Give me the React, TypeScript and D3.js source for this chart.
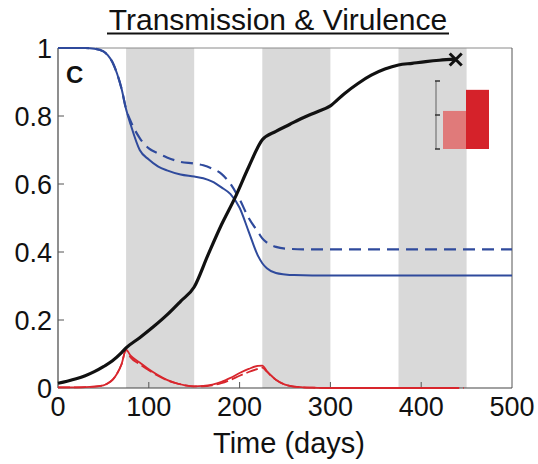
import React from "react";
import * as d3 from "d3";

const W = 538, H = 464;
const M = { left: 58, right: 26, top: 48, bottom: 76 };

const xTicks = [0, 100, 200, 300, 400, 500];
const yTicks = [0, 0.2, 0.4, 0.6, 0.8, 1];
const yTickLabels = ["0", "0.2", "0.4", "0.6", "0.8", "1"];
const bands: [number, number][] = [[75, 150], [225, 300], [375, 450]];

const blackDays = [0, 10, 20, 30, 40, 50, 60, 70, 75, 90, 105, 120, 135, 150, 165, 180, 195, 210, 225, 240, 255, 270, 285, 300, 315, 330, 345, 360, 375, 390, 405, 420, 438];
const blackVals = [0.014, 0.02, 0.027, 0.036, 0.048, 0.063, 0.08, 0.104, 0.118, 0.148, 0.18, 0.215, 0.255, 0.297, 0.39, 0.48, 0.56, 0.65, 0.73, 0.755, 0.775, 0.795, 0.812, 0.83, 0.865, 0.895, 0.92, 0.938, 0.95, 0.955, 0.96, 0.964, 0.967];

const blueDays = [0, 30, 40, 50, 55, 60, 65, 70, 75, 80, 90, 100, 110, 120, 135, 150, 160, 170, 180, 190, 200, 210, 220, 225, 230, 240, 250, 260, 280, 300, 400, 500];
const blueVals = [1, 1, 0.998, 0.99, 0.978, 0.958, 0.925, 0.88, 0.82, 0.775, 0.7, 0.672, 0.652, 0.64, 0.628, 0.622, 0.617, 0.607, 0.59, 0.57, 0.53, 0.46, 0.39, 0.367, 0.352, 0.338, 0.334, 0.332, 0.331, 0.331, 0.331, 0.331];

const blueDashDays = [0, 30, 40, 50, 55, 60, 65, 70, 75, 80, 90, 100, 110, 120, 135, 150, 160, 170, 180, 190, 200, 210, 220, 225, 230, 240, 250, 270, 350, 500];
const blueDashVals = [1, 1, 0.998, 0.99, 0.978, 0.958, 0.925, 0.88, 0.82, 0.785, 0.735, 0.705, 0.69, 0.678, 0.665, 0.66, 0.655, 0.645, 0.63, 0.6, 0.555, 0.5, 0.46, 0.44, 0.428, 0.415, 0.41, 0.408, 0.408, 0.408];

const redDays = [0, 20, 40, 50, 55, 60, 65, 70, 75, 80, 90, 100, 110, 120, 130, 140, 150, 160, 170, 180, 190, 200, 210, 220, 225, 230, 235, 240, 250, 260, 270, 280, 300, 350, 440];
const redVals = [0.002, 0.002, 0.004, 0.008, 0.014, 0.024, 0.042, 0.07, 0.112, 0.095, 0.075, 0.055, 0.038, 0.024, 0.014, 0.008, 0.005, 0.006, 0.01, 0.018, 0.03, 0.044, 0.056, 0.065, 0.066, 0.05, 0.036, 0.024, 0.01, 0.004, 0.002, 0.001, 0, 0, 0];

const redDashDays = [0, 20, 40, 50, 55, 60, 65, 70, 75, 80, 90, 100, 110, 120, 130, 140, 150, 160, 170, 180, 190, 200, 210, 220, 225, 230, 235, 240, 250, 260, 280, 300, 350, 400, 447];
const redDashVals = [0.002, 0.002, 0.004, 0.008, 0.014, 0.024, 0.042, 0.07, 0.112, 0.09, 0.07, 0.052, 0.036, 0.023, 0.014, 0.008, 0.005, 0.005, 0.008, 0.014, 0.024, 0.036, 0.047, 0.056, 0.06, 0.048, 0.035, 0.024, 0.01, 0.004, 0.001, 0, 0, 0, 0];

const endMarker = { day: 438, value: 0.966 };

const insetLabels = ["a", "b"];
const insetVals = [0.56, 0.87];
const insetColors = ["#e07a7a", "#d5222a"];

export default function App() {
  const x = d3.scaleLinear().domain([0, 500]).range([M.left, W - M.right]);
  const y = d3.scaleLinear().domain([0, 1]).range([H - M.bottom, M.top]);
  const mk = (ds: number[], vs: number[]) =>
    d3.line<number>().x((_, i) => x(ds[i])).y((v) => y(v)).curve(d3.curveMonotoneX)(vs) || "";

  const iy = d3.scaleLinear().domain([0, 1]).range([149, 81]);
  const ix = d3.scaleBand().domain(insetLabels).range([443, 489]).padding(0);

  const x0 = M.left, x1 = W - M.right, y0 = H - M.bottom, y1 = M.top;
  const font = "'Liberation Sans', Arial, Helvetica, sans-serif";
  const mx = x(endMarker.day), my = y(endMarker.value);

  return (
    <svg width={W} height={H} style={{ position: "absolute", left: 0, top: 0, background: "#fff" }} fontFamily={font}>
      {bands.map(([a, b], i) => (
        <rect key={i} x={x(a)} y={y1} width={x(b) - x(a)} height={y0 - y1} fill="#d9d9d9" />
      ))}
      <line x1={x0} x2={x1} y1={y1} y2={y1} stroke="#8a8a8a" strokeWidth={1} />
      <line x1={x1} x2={x1} y1={y1} y2={y0} stroke="#555" strokeWidth={1} />
      <line x1={x0} x2={x1} y1={y0} y2={y0} stroke="#444" strokeWidth={1.2} />
      <line x1={x0} x2={x0} y1={y1} y2={y0} stroke="#444" strokeWidth={1.2} />
      {yTicks.map((t, i) => (
        <g key={i}>
          {t > 0 && t < 1 && <line x1={x0} x2={x0 + 6} y1={y(t)} y2={y(t)} stroke="#555" />}
          <text x={x0 - 6} y={y(t)} dy="0.36em" textAnchor="end" fontSize={27} fill="#111">{yTickLabels[i]}</text>
        </g>
      ))}
      {xTicks.map((t, i) => (
        <g key={i}>
          {t > 0 && t < 500 && <line x1={x(t)} x2={x(t)} y1={y0} y2={y0 - 6} stroke="#555" />}
          <text x={x(t)} y={416} textAnchor="middle" fontSize={27} fill="#111">{t}</text>
        </g>
      ))}
      <path d={mk(blueDashDays, blueDashVals)} fill="none" stroke="#2f4a9c" strokeWidth={2.2} strokeDasharray="12 7" />
      <path d={mk(blueDays, blueVals)} fill="none" stroke="#2f4a9c" strokeWidth={2} />
      <path d={mk(redDashDays, redDashVals)} fill="none" stroke="#d8262d" strokeWidth={1.8} strokeDasharray="12 4" />
      <path d={mk(redDays, redVals)} fill="none" stroke="#d8262d" strokeWidth={1.8} />
      <path d={mk(blackDays, blackVals)} fill="none" stroke="#111" strokeWidth={3.2} />
      <path d={`M${mx - 6},${my - 6}L${mx + 6},${my + 6}M${mx - 6},${my + 6}L${mx + 6},${my - 6}`} stroke="#111" strokeWidth={3} />
      <line x1={436} x2={436} y1={iy(1)} y2={iy(0)} stroke="#888" strokeWidth={1.5} />
      {[0, 0.5, 1].map((t) => (
        <line key={t} x1={435} x2={440} y1={iy(t)} y2={iy(t)} stroke="#333" strokeWidth={1.5} />
      ))}
      {insetLabels.map((l, i) => (
        <rect key={l} x={ix(l)} y={iy(insetVals[i])} width={ix.bandwidth()} height={iy(0) - iy(insetVals[i])} fill={insetColors[i]} />
      ))}
      <text x={66} y={83} fontSize={24} fontWeight="bold" fill="#111">C</text>
      <text x={278} y={30} textAnchor="middle" fontSize={30} fill="#111">Transmission &amp; Virulence</text>
      <line x1={107} x2={449} y1={33.5} y2={33.5} stroke="#111" strokeWidth={2} />
      <text x={289} y={453} textAnchor="middle" fontSize={29} fill="#111">Time (days)</text>
    </svg>
  );
}
